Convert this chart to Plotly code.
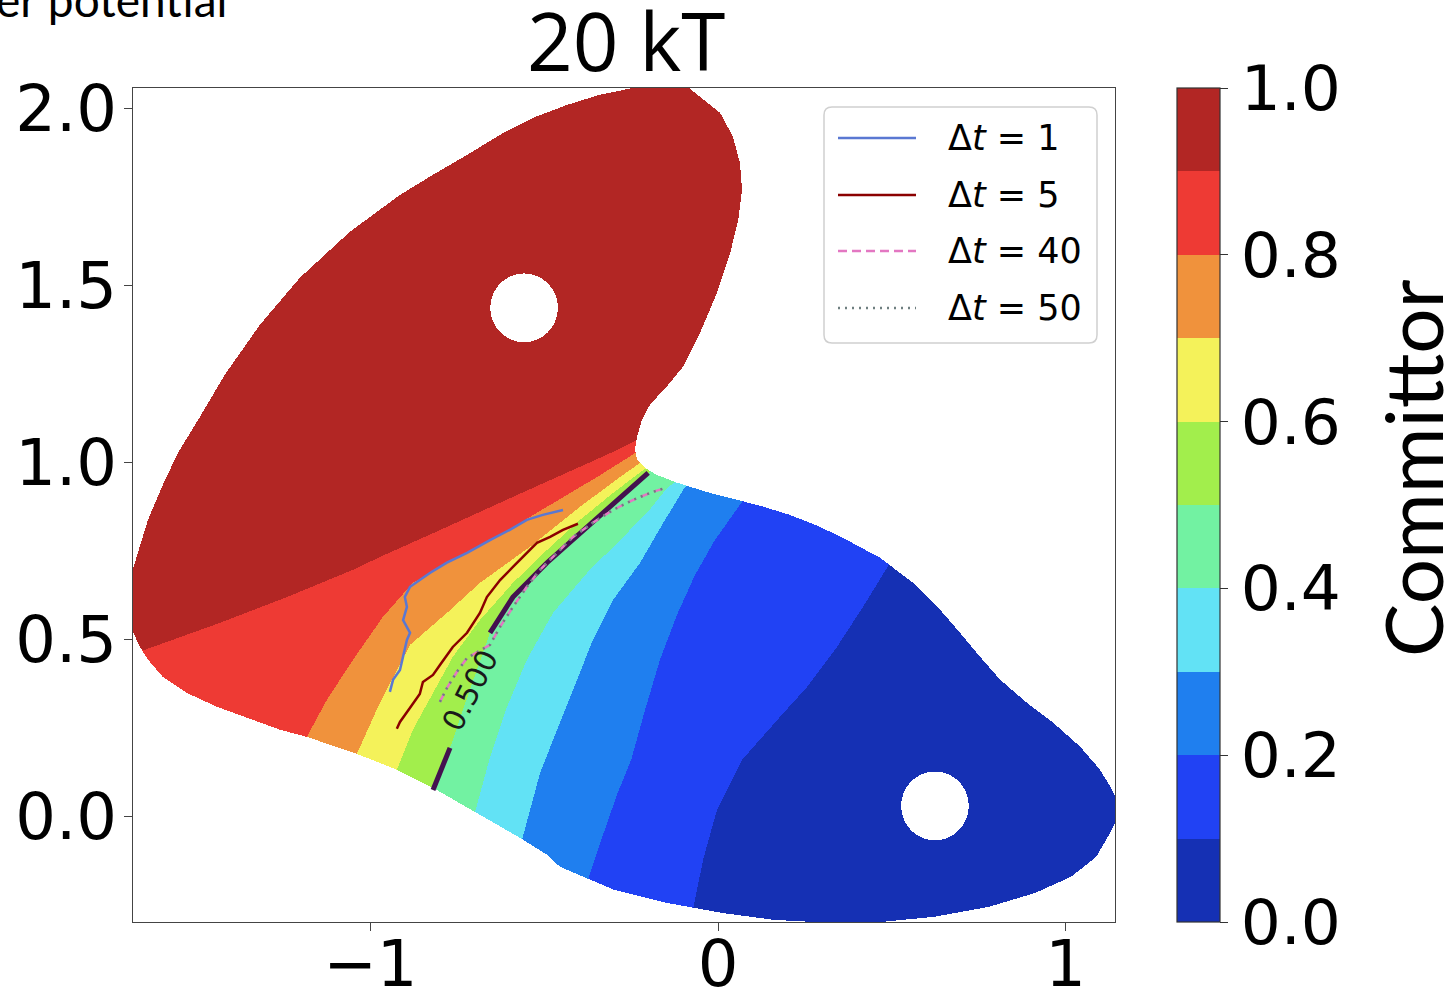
import numpy as np
import plotly.graph_objects as go

# ---------------- data (data units) ----------------
# Outline of the sampled (coloured) region
OUTLINE_X = [-1.70, -1.69, -1.669, -1.640, -1.600, -1.554, -1.496, -1.419, -1.318, -1.203, -1.059, -0.915,
             -0.820, -0.722, -0.627, -0.532, -0.435, -0.340, -0.245, -0.224, -0.109, -0.052, 0.006, 0.043,
             0.063, 0.069, 0.058, 0.035, -0.003, -0.052, -0.101, -0.144, -0.196, -0.219, -0.233, -0.239,
             -0.233, -0.210, -0.176, -0.118, -0.023, 0.121, 0.207, 0.294, 0.371, 0.466, 0.561, 0.639,
             0.696, 0.754, 0.812, 0.889, 0.964, 1.042, 1.099, 1.134, 1.16, 1.128, 1.088, 1.016, 0.912,
             0.780, 0.624, 0.469, 0.317, 0.161, 0.009, -0.147, -0.299, -0.455, -0.492, -0.570, -0.705,
             -0.820, -0.924, -1.039, -1.183, -1.260, -1.338, -1.442, -1.528, -1.597, -1.640, -1.663, -1.69]
OUTLINE_Y = [0.613, 0.678, 0.746, 0.839, 0.932, 1.028, 1.121, 1.249, 1.390, 1.523, 1.653, 1.757,
             1.814, 1.870, 1.927, 1.975, 2.011, 2.040, 2.059, 2.08, 2.08, 2.034, 1.989, 1.921,
             1.847, 1.771, 1.686, 1.593, 1.480, 1.367, 1.271, 1.220, 1.164, 1.121, 1.073, 1.037,
             1.008, 0.986, 0.966, 0.944, 0.915, 0.879, 0.853, 0.819, 0.782, 0.732, 0.661, 0.585,
             0.520, 0.452, 0.387, 0.322, 0.266, 0.198, 0.133, 0.076, 0.020, -0.045, -0.113, -0.169, -0.215,
             -0.254, -0.282, -0.297, -0.299, -0.291, -0.271, -0.243, -0.206, -0.141, -0.107, -0.059, 0.017,
             0.082, 0.133, 0.178, 0.226, 0.246, 0.274, 0.311, 0.350, 0.395, 0.444, 0.480, 0.537]

# Committor isolines (last point of each continues the line through the empty area)
ISO_LEVELS = [0.9, 0.8, 0.7, 0.6, 0.5, 0.4, 0.3, 0.2, 0.1]
ISO_09_X = [-1.778, -1.683, -1.649, -1.433, -1.240, -1.050, -0.973, -0.780, -0.590, -0.397, -0.302, -0.233, 0.524]
ISO_09_Y = [0.429, 0.466, 0.472, 0.548, 0.621, 0.698, 0.734, 0.819, 0.904, 0.989, 1.031, 1.065, 1.460]
ISO_08_X = [-1.183, -1.125, -1.050, -0.964, -0.878, -0.780, -0.636, -0.492, -0.348, -0.233, 0.538]
ISO_08_Y = [0.226, 0.331, 0.444, 0.565, 0.661, 0.718, 0.791, 0.876, 0.960, 1.031, 1.460]
ISO_07_X = [-1.039, -0.973, -0.886, -0.780, -0.685, -0.541, -0.397, -0.282, -0.224, 0.553]
ISO_07_Y = [0.178, 0.322, 0.486, 0.576, 0.661, 0.763, 0.876, 0.960, 1.000, 1.460]
ISO_06_X = [-0.924, -0.878, -0.820, -0.763, -0.685, -0.590, -0.492, -0.397, -0.302, -0.219, 0.567]
ISO_06_Y = [0.133, 0.246, 0.350, 0.452, 0.556, 0.661, 0.754, 0.839, 0.915, 0.977, 1.460]
ISO_05_X = [-0.820, -0.771, -0.714, -0.656, -0.590, -0.492, -0.397, -0.302, -0.201, 0.581]
ISO_05_Y = [0.076, 0.195, 0.359, 0.520, 0.621, 0.718, 0.802, 0.887, 0.972, 1.460]
ISO_04_X = [-0.699, -0.656, -0.607, -0.550, -0.475, -0.377, -0.282, -0.204, -0.147, 0.610]
ISO_04_Y = [0.014, 0.169, 0.311, 0.444, 0.576, 0.689, 0.782, 0.859, 0.929, 1.460]
ISO_03_X = [-0.564, -0.512, -0.463, -0.417, -0.360, -0.302, -0.224, -0.161, -0.095, 0.639]
ISO_03_Y = [-0.065, 0.124, 0.246, 0.359, 0.500, 0.613, 0.718, 0.825, 0.932, 1.460]
ISO_02_X = [-0.371, -0.331, -0.291, -0.250, -0.210, -0.167, -0.118, -0.066, -0.009, 0.069, 0.696]
ISO_02_Y = [-0.169, -0.051, 0.062, 0.161, 0.302, 0.444, 0.571, 0.684, 0.782, 0.890, 1.460]
ISO_01_X = [-0.075, -0.043, -0.003, 0.069, 0.178, 0.256, 0.342, 0.417, 0.495, 0.812]
ISO_01_Y = [-0.277, -0.121, 0.020, 0.161, 0.282, 0.367, 0.480, 0.593, 0.718, 1.178]

# Metastable states (white disks)
STATE_X = [-0.558, 0.624]
STATE_Y = [1.438, 0.031]
STATE_R = [0.097, 0.097]

# Estimated 0.5 surfaces for the lag times
DT1_X = [-0.944, -0.935, -0.915, -0.906, -0.895, -0.886, -0.906, -0.895, -0.901, -0.886, -0.829, -0.780,
         -0.722, -0.656, -0.599, -0.550, -0.504, -0.446]
DT1_Y = [0.353, 0.387, 0.415, 0.452, 0.500, 0.520, 0.556, 0.593, 0.621, 0.650, 0.689, 0.718,
         0.746, 0.782, 0.811, 0.839, 0.853, 0.867]
DT5_X = [-0.924, -0.915, -0.886, -0.858, -0.849, -0.820, -0.800, -0.763, -0.722, -0.685, -0.665, -0.627,
         -0.590, -0.550, -0.521, -0.483, -0.446, -0.403]
DT5_Y = [0.249, 0.268, 0.308, 0.347, 0.381, 0.401, 0.429, 0.480, 0.520, 0.576, 0.621, 0.669,
         0.706, 0.746, 0.774, 0.791, 0.811, 0.828]
DT40_X = [-0.800, -0.780, -0.751, -0.722, -0.656, -0.627, -0.590, -0.550, -0.512, -0.463, -0.417, -0.360,
          -0.302, -0.245, -0.196, -0.153]
DT40_Y = [0.325, 0.364, 0.410, 0.449, 0.486, 0.537, 0.593, 0.650, 0.698, 0.746, 0.791, 0.831,
          0.867, 0.895, 0.915, 0.929]
DT50_X = [-0.800, -0.780, -0.751, -0.722, -0.656, -0.627, -0.590, -0.550, -0.512, -0.463, -0.417, -0.360,
          -0.302, -0.245, -0.196, -0.153]
DT50_Y = [0.325, 0.364, 0.410, 0.449, 0.486, 0.537, 0.593, 0.650, 0.698, 0.746, 0.791, 0.831,
          0.867, 0.895, 0.915, 0.929]

BAND_COLORS = ['#1530B4', '#2142F4', '#1F7FEF', '#62E2F5', '#72F2A2',
               '#A2EE4C', '#F4F25A', '#F0923C', '#EE3A34', '#B22624']
CB_TICKS = [0.0, 0.2, 0.4, 0.6, 0.8, 1.0]
X_TICKS = [-1, 0, 1]
X_TICKTEXT = ['\u22121', '0', '1']
Y_TICKS = [0.0, 0.5, 1.0, 1.5, 2.0]
LEGEND_LABELS = ['\u0394<i>t</i> = 1', '\u0394<i>t</i> = 5', '\u0394<i>t</i> = 40', '\u0394<i>t</i> = 50']
CONTOUR_LABEL = '0.500'

# ---------------- layout geometry ----------------
W, H = 1450, 993
ML, MR, MT, MB = 133, 335, 88, 71
PW, PH = W - ML - MR, H - MT - MB
X_RANGE = [-1.683, 1.142]
Y_RANGE = [-0.297, 2.059]


def pxx(px):
    return (px - ML) / PW


def pxy(py):
    return (H - MB - py) / PH


# ---------------- field on a pixel-aligned grid ----------------
dx = (X_RANGE[1] - X_RANGE[0]) / PW
dy = (Y_RANGE[1] - Y_RANGE[0]) / PH
xs = X_RANGE[0] + (np.arange(PW) + 0.5) * dx
ys = Y_RANGE[0] + (np.arange(PH) + 0.5) * dy
XX, YY = np.meshgrid(xs, ys)

isolines = [(ISO_09_X, ISO_09_Y), (ISO_08_X, ISO_08_Y), (ISO_07_X, ISO_07_Y), (ISO_06_X, ISO_06_Y),
            (ISO_05_X, ISO_05_Y), (ISO_04_X, ISO_04_Y), (ISO_03_X, ISO_03_Y), (ISO_02_X, ISO_02_Y),
            (ISO_01_X, ISO_01_Y)]
count = np.zeros(XX.shape)
for ix, iy in isolines:
    ix = np.asarray(ix); iy = np.asarray(iy)
    o = np.argsort(iy)
    xb = np.interp(ys, iy[o], ix[o])
    count += (XX > xb[:, None])
z = ISO_LEVELS[0] + 0.05 - 0.1 * count


def inside(px, py, vx, vy):
    res = np.zeros(px.shape, dtype=bool)
    n = len(vx)
    j = n - 1
    for i in range(n):
        xi, yi, xj, yj = vx[i], vy[i], vx[j], vy[j]
        cond = (yi > py) != (yj > py)
        xint = (xj - xi) * (py - yi) / ((yj - yi) if yj != yi else 1e-12) + xi
        res ^= cond & (px < xint)
        j = i
    return res


mask = inside(XX, YY, OUTLINE_X, OUTLINE_Y)
for cx, cy, r in zip(STATE_X, STATE_Y, STATE_R):
    mask &= (XX - cx) ** 2 + (YY - cy) ** 2 > r ** 2
z = np.where(mask, z, np.nan).astype(np.float32)

cs = []
for i, c in enumerate(BAND_COLORS):
    cs.append([i / 10, c])
    cs.append([(i + 1) / 10, c])

fig = go.Figure()
fig.add_trace(go.Heatmap(
    x=xs, y=ys, z=z, zmin=0, zmax=1, colorscale=cs, zsmooth=False, hoverinfo='skip',
    colorbar=dict(
        x=pxx(1177), xanchor='left', y=0.5, yanchor='middle', len=1, lenmode='fraction',
        thickness=43, thicknessmode='pixels', xpad=0, ypad=0,
        outlinewidth=1.2, outlinecolor='#333333',
        tickvals=CB_TICKS, ticktext=['%.1f' % v for v in CB_TICKS],
        ticks='outside', ticklen=8, tickwidth=1.2, tickcolor='#333333',
        tickfont=dict(family='DejaVu Sans', size=63, color='black'),
    ),
))

# 0.5 contour with a gap for its label
px_, py_ = [], []
gap_done = False
for x, y in zip(ISO_05_X[:-1], ISO_05_Y[:-1]):
    if y > 0.5 and not gap_done:
        px_.append(None); py_.append(None); gap_done = True
    if 0.2 < y < 0.5:
        continue
    px_.append(x); py_.append(y)
fig.add_trace(go.Scatter(x=px_, y=py_, mode='lines', line=dict(color='#44114f', width=5),
                         showlegend=False, hoverinfo='skip'))

lab_y = (ISO_05_Y[1] + ISO_05_Y[3]) / 2
lab_x = float(np.interp(lab_y, ISO_05_Y, ISO_05_X))
fig.add_annotation(x=lab_x, y=lab_y, xref='x', yref='y', text=CONTOUR_LABEL, showarrow=False,
                   textangle=-63, font=dict(family='DejaVu Sans', size=30, color='#1a1a1a'))

line_styles = [
    (DT1_X, DT1_Y, dict(color='#5a78d2', width=2.5)),
    (DT5_X, DT5_Y, dict(color='#8b0000', width=2.5)),
    (DT40_X, DT40_Y, dict(color='#e377c2', width=2.5, dash='9px,5px')),
    (DT50_X, DT50_Y, dict(color='#6f7f80', width=2.5, dash='2px,5px')),
]
for (lx, ly, st), name in zip(line_styles, LEGEND_LABELS):
    fig.add_trace(go.Scatter(x=lx, y=ly, mode='lines', line=st, name=name,
                             showlegend=False, hoverinfo='skip'))

# ---------------- manual legend ----------------
bx0, bx1, by0, by1, rr = 824, 1097, 107, 343, 8


def pt(px, py):
    return '%f,%f' % (pxx(px), pxy(py))


path = ('M ' + pt(bx0 + rr, by0) + ' L ' + pt(bx1 - rr, by0) + ' Q ' + pt(bx1, by0) + ' ' + pt(bx1, by0 + rr) +
        ' L ' + pt(bx1, by1 - rr) + ' Q ' + pt(bx1, by1) + ' ' + pt(bx1 - rr, by1) +
        ' L ' + pt(bx0 + rr, by1) + ' Q ' + pt(bx0, by1) + ' ' + pt(bx0, by1 - rr) +
        ' L ' + pt(bx0, by0 + rr) + ' Q ' + pt(bx0, by0) + ' ' + pt(bx0 + rr, by0) + ' Z')
fig.add_shape(type='path', path=path, xref='paper', yref='paper',
              line=dict(color='#d0d0d0', width=1.5), fillcolor='rgba(255,255,255,0.85)', layer='above')
rows = [138, 195, 251, 308]
for (lx, ly, st), name, ry in zip(line_styles, LEGEND_LABELS, rows):
    fig.add_shape(type='line', xref='paper', yref='paper', x0=pxx(838), x1=pxx(916), y0=pxy(ry), y1=pxy(ry),
                  line=st, layer='above')
    fig.add_annotation(xref='paper', yref='paper', x=pxx(946), y=pxy(ry), text=name, showarrow=False,
                       xanchor='left', yanchor='middle',
                       font=dict(family='DejaVu Sans', size=35, color='black'))

# ---------------- texts ----------------
fig.add_annotation(xref='paper', yref='paper', x=pxx(626), y=pxy(40), text='20 kT', showarrow=False,
                   xanchor='center', yanchor='middle', font=dict(family='Open Sans', size=80, color='black'))
fig.add_annotation(xref='paper', yref='paper', x=pxx(1412), y=pxy(468), text='Committor', showarrow=False,
                   textangle=-90, xanchor='center', yanchor='middle',
                   font=dict(family='Lato', size=80, color='black'))
fig.add_annotation(xref='paper', yref='paper', x=pxx(-6), y=pxy(29), text='er potential', showarrow=False,
                   xanchor='left', yanchor='bottom', font=dict(family='Lato', size=46, color='black'))

axis_common = dict(showgrid=False, zeroline=False, showline=True, mirror=True, linecolor='#444444',
                   linewidth=1.3, ticks='outside', ticklen=8, tickwidth=1.3, tickcolor='#444444',
                   tickfont=dict(family='DejaVu Sans', size=64, color='black'))
fig.update_xaxes(range=X_RANGE, tickvals=X_TICKS, ticktext=X_TICKTEXT, ticklabelstandoff=-22, **axis_common)
fig.update_yaxes(range=Y_RANGE, tickvals=Y_TICKS, ticktext=['%.1f' % v for v in Y_TICKS],
                 ticklabelstandoff=-6, **axis_common)
fig.update_layout(width=W, height=H, margin=dict(l=ML, r=MR, t=MT, b=MB, autoexpand=False),
                  plot_bgcolor='white', paper_bgcolor='white', showlegend=False)

fig.write_html('out.html')
